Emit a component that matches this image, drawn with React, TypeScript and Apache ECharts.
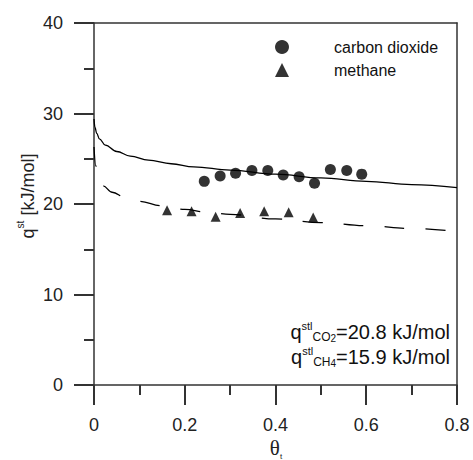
import React, { useEffect, useRef } from "react";
import * as echarts from "echarts";

const co2Theta = [0.243, 0.278, 0.312, 0.348, 0.383, 0.417, 0.452, 0.486, 0.521, 0.557, 0.59];
const co2Q = [22.5, 23.1, 23.4, 23.7, 23.7, 23.2, 23.0, 22.3, 23.8, 23.7, 23.3];
const ch4Theta = [0.161, 0.215, 0.268, 0.322, 0.375, 0.429, 0.483];
const ch4Q = [19.3, 19.2, 18.6, 19.0, 19.2, 19.1, 18.5];

const co2FitTheta = [0, 0.002, 0.006, 0.012, 0.025, 0.05, 0.08, 0.12, 0.17, 0.22, 0.3, 0.4, 0.5, 0.6, 0.7, 0.8];
const co2FitQ = [29.4, 28.5, 27.8, 27.2, 26.5, 25.8, 25.3, 24.85, 24.45, 24.1, 23.75, 23.3, 22.88, 22.5, 22.15, 21.8];
const ch4FitTheta = [0, 0.004, 0.01, 0.02, 0.04, 0.07, 0.1, 0.15, 0.2, 0.25, 0.3, 0.4, 0.5, 0.6, 0.7, 0.78];
const ch4FitQ = [26.3, 24.2, 23.0, 22.0, 21.3, 20.7, 20.3, 19.8, 19.4, 19.1, 18.85, 18.35, 17.95, 17.6, 17.3, 17.05];

const X_MIN = 0, X_MAX = 0.8, X_STEP = 0.2;
const Y_MIN = 0, Y_MAX = 40, Y_STEP = 10;

const zip = (a: number[], b: number[]) => a.map((v, i) => [v, b[i]]);

const FONT = "Liberation Sans, Arial, sans-serif";
const AXIS_COLOR = "#333";

export default function App() {
  const ref = useRef<HTMLDivElement>(null);
  useEffect(() => {
    if (!ref.current) return;
    const chart = echarts.init(ref.current, null, { renderer: "svg" });
    const mainAxis = {
      axisLine: { show: true, onZero: false, lineStyle: { color: AXIS_COLOR, width: 1.5 } },
      axisTick: { show: true, inside: false, length: 20, lineStyle: { color: AXIS_COLOR, width: 2 } },
      minorTick: { show: true, splitNumber: 2, length: 10, lineStyle: { color: AXIS_COLOR, width: 2 } },
      splitLine: { show: false },
      minorSplitLine: { show: false },
      axisLabel: { show: true, fontFamily: FONT, fontSize: 18, color: "#222", margin: 31 },
    };
    const frameAxis = {
      axisLine: { show: true, onZero: false, lineStyle: { color: AXIS_COLOR, width: 1.5 } },
      axisTick: { show: false },
      axisLabel: { show: false },
      splitLine: { show: false },
    };
    chart.setOption({
      animation: false,
      backgroundColor: "#fff",
      grid: { left: 94, right: 16, top: 23, bottom: 75, show: false },
      xAxis: [
        { type: "value", position: "bottom", min: X_MIN, max: X_MAX, interval: X_STEP, ...mainAxis },
        { type: "value", position: "top", min: X_MIN, max: X_MAX, ...frameAxis },
      ],
      yAxis: [
        { type: "value", position: "left", min: Y_MIN, max: Y_MAX, interval: Y_STEP, ...mainAxis },
        { type: "value", position: "right", min: Y_MIN, max: Y_MAX, ...frameAxis },
      ],
      legend: {
        orient: "vertical",
        left: 270,
        top: 34,
        itemWidth: 14,
        itemHeight: 14,
        itemGap: 7,
        textStyle: { fontFamily: FONT, fontSize: 16, color: "#111", padding: [0, 0, 0, 40] },
        data: [
          { name: "carbon dioxide", icon: "circle" },
          { name: "methane", icon: "triangle" },
        ],
      },
      series: [
        {
          name: "CO2 fit",
          type: "line",
          data: zip(co2FitTheta, co2FitQ),
          showSymbol: false,
          smooth: 0.4,
          smoothMonotone: "x",
          lineStyle: { color: "#000", width: 1.3 },
          silent: true,
        },
        {
          name: "CH4 fit",
          type: "line",
          data: zip(ch4FitTheta, ch4FitQ),
          showSymbol: false,
          smooth: 0.4,
          smoothMonotone: "x",
          lineStyle: { color: "#000", width: 1.3, type: [20, 21] },
          silent: true,
        },
        {
          name: "carbon dioxide",
          type: "scatter",
          data: zip(co2Theta, co2Q),
          symbol: "circle",
          symbolSize: 11,
          itemStyle: { color: "#000" },
        },
        {
          name: "methane",
          type: "scatter",
          data: zip(ch4Theta, ch4Q),
          symbol: "triangle",
          symbolSize: 10,
          itemStyle: { color: "#000" },
        },
      ],
      graphic: [
        {
          type: "text",
          x: 26,
          y: 196,
          rotation: Math.PI / 2,
          style: {
            text: "{b|q}{s|st}{b| [kJ/mol]}",
            align: "center",
            verticalAlign: "middle",
            rich: {
              b: { fontFamily: FONT, fontSize: 18, fill: "#222", verticalAlign: "bottom", lineHeight: 22 },
              s: { fontFamily: FONT, fontSize: 10, fill: "#222", verticalAlign: "top", lineHeight: 12 },
            },
          },
        },
        {
          type: "text",
          x: 276,
          y: 448,
          style: {
            text: "{b|θ}{s|t}",
            align: "center",
            verticalAlign: "middle",
            rich: {
              b: { fontFamily: "Liberation Serif, serif", fontSize: 21, fill: "#222", verticalAlign: "middle", lineHeight: 24 },
              s: { fontFamily: FONT, fontSize: 8, fill: "#222", verticalAlign: "bottom", lineHeight: 10 },
            },
          },
        },
        ...[
          ["CO", "2", "=20.8 kJ/mol", 320],
          ["CH", "4", "=15.9 kJ/mol", 345],
        ].map(([a, n, rest, y]) => ({
          type: "text",
          x: 450,
          y: y as number,
          style: {
            text: `{b|q}{sup|stl}{sub|${a}}{sub2|${n}}{b|${rest}}`,
            align: "right",
            verticalAlign: "top",
            rich: {
              b: { fontFamily: FONT, fontSize: 20, fill: "#111", verticalAlign: "middle", lineHeight: 23 },
              sup: { fontFamily: FONT, fontSize: 11, fill: "#111", verticalAlign: "top", lineHeight: 12 },
              sub: { fontFamily: FONT, fontSize: 12, fill: "#111", verticalAlign: "bottom", lineHeight: 12 },
              sub2: { fontFamily: FONT, fontSize: 10, fill: "#111", verticalAlign: "bottom", lineHeight: 10 },
            },
          },
        })),
      ],
    });
    return () => chart.dispose();
  }, []);
  return <div ref={ref} style={{ width: 473, height: 460, position: "absolute", left: 0, top: 0 }} />;
}
